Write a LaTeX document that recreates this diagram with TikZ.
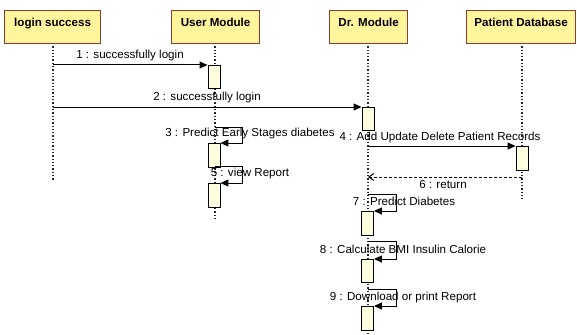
\documentclass[tikz,border=0pt]{standalone}
\usepackage{fontspec}
\setmainfont{Liberation Sans}
\usetikzlibrary{arrows.meta}
\definecolor{hdrfill}{HTML}{FFF59C}
\definecolor{hdrline}{HTML}{8A3E2E}
\definecolor{actfill}{HTML}{FFFFE0}
\begin{document}
\begin{tikzpicture}[x=1pt,y=-1pt,
  header/.style={draw=hdrline,fill=hdrfill,line width=1.2pt,minimum height=33pt,
    inner sep=0pt,anchor=north west,font=\fontsize{11.6}{13}\selectfont\bfseries,
    text depth=0pt},
  actbox/.style={draw=black,fill=actfill,line width=0.9pt,minimum width=12pt,
    inner sep=0pt,anchor=north},
  lifeline/.style={dotted,line width=1.3pt,black!85},
  msg/.style={line width=1pt,-{Triangle[length=8pt,width=7pt]}},
  ret/.style={dashed,line width=1pt,dash pattern=on 3pt off 2pt,-{Straight Barb[length=5pt,width=7pt]}},
  lbl/.style={font=\fontsize{11.6}{13}\selectfont,inner sep=0pt,fill=white,fill opacity=0,text opacity=1}]
\useasboundingbox (0,0) rectangle (577,334);
\fill[white] (0,0) rectangle (577,334);

% lifelines (drawn first so boxes sit on top)
\coordinate (lsTop) at (53,43);   \coordinate (lsEnd) at (53,180);
\coordinate (umTop) at (215,43);  \coordinate (umEnd) at (215,220);
\coordinate (drTop) at (368,43);  \coordinate (drEnd) at (368,334);
\coordinate (pdTop) at (522,43);  \coordinate (pdEnd) at (522,200);
\draw[lifeline] (lsTop) -- (lsEnd);
\draw[lifeline] (umTop) -- (umEnd);
\draw[lifeline] (drTop) -- (drEnd);
\draw[lifeline] (pdTop) -- (pdEnd);

% object headers
\node[header,minimum width=96pt] (ls) at (4,10) {\raisebox{9pt}{login success}};
\node[header,minimum width=88pt] (um) at (171,10) {\raisebox{9pt}{User Module}};
\node[header,minimum width=78pt] (dr) at (329,10) {\raisebox{9pt}{Dr. Module}};
\node[header,minimum width=109pt] (pd) at (466,10) {\raisebox{9pt}{Patient Database}};

% activation bars
\node[actbox,minimum height=23pt] (a1) at (214,65) {};
\node[actbox,minimum height=23pt] (a2) at (368,107) {};
\node[actbox,minimum height=24pt] (a3) at (214,143) {};
\node[actbox,minimum height=24pt] (a4) at (522,146) {};
\node[actbox,minimum height=24pt] (a5) at (214,183) {};
\node[actbox,minimum height=24pt] (a7) at (367.5,211) {};
\node[actbox,minimum height=23pt] (a8) at (367.5,259) {};
\node[actbox,minimum height=24pt] (a9) at (367.5,306) {};

% message source points on lifelines
\coordinate (m1s) at (53,65);
\coordinate (m2s) at (53,107);
\coordinate (m4s) at (368,146);
\coordinate (m6s) at (522,177);
\coordinate (m6e) at (368,177);

% messages
\draw[msg] (m1s) -- (a1.north west);
\draw[msg] (m2s) -- (a2.north west);
\draw[msg] (m4s) -- (a4.north west);
\draw[ret] (m6s) -- (m6e);

% self calls
\draw[msg] (215,127) -- (242,127) -- (242,143) -- (a3.north east);
\draw[msg] (215,166) -- (242,166) -- (242,183) -- (a5.north east);
\draw[msg] (368,194) -- (396,194) -- (396,211) -- (a7.north east);
\draw[msg] (368,241) -- (396,241) -- (396,259) -- (a8.north east);
\draw[msg] (368,289) -- (396,289) -- (396,306) -- (a9.north east);

% message labels
\node[lbl] (l1) at (130,56) {1 : successfully login};
\node[lbl] (l2) at (207,98) {2 : successfully login};
\node[lbl] (l3) at (250,133) {3 : Predict Early Stages diabetes};
\node[lbl] (l4) at (440,137) {4 : Add Update Delete Patient Records};
\node[lbl] (l5) at (250,173) {5 : view Report};
\node[lbl] (l6) at (443,185) {6 : return};
\node[lbl] (l7) at (404,201) {7 : Predict Diabetes};
\node[lbl] (l8) at (403,249) {8 : Calculate BMI Insulin Calorie};
\node[lbl] (l9) at (403,297) {9 : Download or print Report};
\end{tikzpicture}
\end{document}
